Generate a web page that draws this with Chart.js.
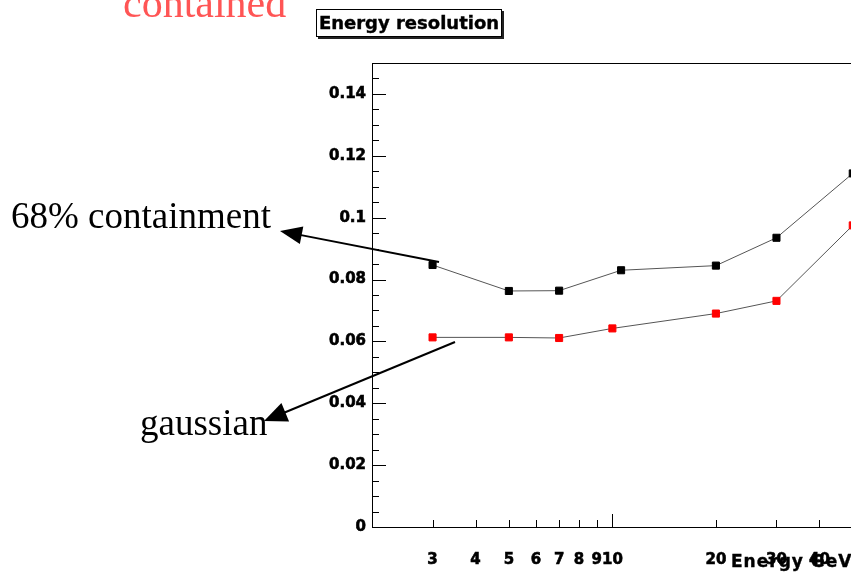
<!DOCTYPE html>
<html>
<head>
<meta charset="utf-8">
<script src="https://cdn.jsdelivr.net/npm/chart.js@4/dist/chart.umd.min.js"></script>
<style>
  body { margin: 0; overflow: hidden; background: #fff; }
  #wrap { position: relative; width: 880px; height: 574px; }
  .note { position: absolute; white-space: nowrap; line-height: 1; }
  .serif { font-family: "Liberation Serif", "Times New Roman", serif; color: #000; }
  #titlebox {
    position: absolute; left: 316px; top: 9px; width: 184px; height: 26px;
    border: 1px solid #000; box-shadow: 2px 2px 0 #222; background: #fff;
    font: bold 18px "DejaVu Sans", sans-serif; text-align: center; line-height: 26px;
    -webkit-text-stroke: 0.4px #000;
  }
</style>
</head>
<body>
<div id="wrap">
  <canvas id="myChart" width="880" height="574"></canvas>
  <div class="note serif" style="left:123px; top:-18px; font-size:42px; color:#ff5555;">contained</div>
  <div id="titlebox">Energy resolution</div>
  <div class="note serif" style="left:11px; top:197px; font-size:37px;">68% containment</div>
  <div class="note serif" style="left:140px; top:404px; font-size:37px;">gaussian</div>
  <div class="note" style="left:731px; top:551px; font:bold 17px 'DejaVu Sans', sans-serif; letter-spacing:1px; -webkit-text-stroke:0.4px #000;">Energy GeV</div>
</div>
<script>
// valeurs
const energyContainment = [3, 5, 7, 10.6, 20, 30, 50];
const resContainment = [0.0847, 0.0763, 0.0764, 0.0830, 0.0845, 0.0935, 0.1143];
const energyGauss = [3, 5, 7, 10, 20, 30, 50];
const resGauss = [0.0613, 0.0613, 0.0611, 0.0642, 0.0690, 0.0731, 0.0975];

const xTickValues = [3, 4, 5, 6, 7, 8, 9, 10, 20, 30, 40];
const xMinorTicks = [2, 3, 4, 5, 6, 7, 8, 9, 10, 20, 30, 40, 50];
const yTickValues = [0, 0.02, 0.04, 0.06, 0.08, 0.1, 0.12, 0.14];
const yMinorStep = 0.005;

const toPoints = (xs, ys) => xs.map((x, i) => ({ x: x, y: ys[i] }));
const tickFont = { family: 'DejaVu Sans', size: 15, weight: 'bold' };

// ticks vers l'interieur + cadre + fleches
const rootStyle = {
    id: 'rootStyle',
    afterDraw(chart) {
        const ctx = chart.ctx;
        const area = chart.chartArea;
        const xs = chart.scales.x;
        const ys = chart.scales.y;
        ctx.save();
        ctx.strokeStyle = '#000';
        ctx.lineWidth = 1;
        ctx.beginPath();
        ctx.moveTo(area.left, Math.round(area.top) + 0.5);
        ctx.lineTo(area.right, Math.round(area.top) + 0.5);
        // y ticks
        for (let i = 0; i * yMinorStep <= ys.max + 1e-9; i++) {
            const py = Math.round(ys.getPixelForValue(i * yMinorStep)) + 0.5;
            const len = i % 4 === 0 ? 14 : 7;
            ctx.moveTo(area.left, py);
            ctx.lineTo(area.left + len, py);
        }
        // x ticks
        xMinorTicks.forEach((v) => {
            const px = Math.round(xs.getPixelForValue(v)) + 0.5;
            const len = v === 10 ? 13 : 7;
            ctx.moveTo(px, area.bottom);
            ctx.lineTo(px, area.bottom - len);
        });
        ctx.stroke();

        // fleches
        const arrow = (x1, y1, x2, y2, hl, hw) => {
            const dx = x2 - x1, dy = y2 - y1;
            const d = Math.hypot(dx, dy);
            const ux = dx / d, uy = dy / d;
            ctx.lineWidth = 2;
            ctx.beginPath();
            ctx.moveTo(x1, y1);
            ctx.lineTo(x2 - ux * hl * 0.8, y2 - uy * hl * 0.8);
            ctx.stroke();
            ctx.beginPath();
            ctx.moveTo(x2, y2);
            ctx.lineTo(x2 - ux * hl - uy * hw, y2 - uy * hl + ux * hw);
            ctx.lineTo(x2 - ux * hl + uy * hw, y2 - uy * hl - ux * hw);
            ctx.closePath();
            ctx.fillStyle = '#000';
            ctx.fill();
        };
        arrow(439, 262, 280, 231, 22, 9);
        arrow(455, 342, 264, 421, 23, 10);
        ctx.restore();
    }
};

new Chart(document.getElementById('myChart'), {
    type: 'scatter',
    data: {
        datasets: [{
            label: '68% containment',
            data: toPoints(energyContainment, resContainment),
            showLine: true,
            borderColor: '#555',
            borderWidth: 1,
            pointStyle: 'rect',
            pointRadius: 5,
            pointBorderWidth: 1,
            pointBackgroundColor: '#000',
            pointBorderColor: '#000'
        }, {
            label: 'gaussian',
            data: toPoints(energyGauss, resGauss),
            showLine: true,
            borderColor: '#555',
            borderWidth: 1,
            pointStyle: 'rect',
            pointRadius: 5,
            pointBorderWidth: 1,
            pointBackgroundColor: '#ff0000',
            pointBorderColor: '#ff0000'
        }]
    },
    options: {
        responsive: false,
        animation: false,
        layout: { padding: { top: 63, right: 13, bottom: 0, left: 0 } },
        plugins: {
            legend: { display: false },
            tooltip: { enabled: false }
        },
        scales: {
            x: {
                type: 'logarithmic',
                min: 2,
                max: 55,
                afterBuildTicks: (scale) => { scale.ticks = xTickValues.map((v) => ({ value: v })); },
                afterFit: (scale) => { scale.height = 47; },
                grid: { display: false, drawTicks: false },
                border: { display: true, color: '#000', width: 1 },
                ticks: {
                    autoSkip: false,
                    maxRotation: 0,
                    padding: 24,
                    color: '#000',
                    font: tickFont,
                    textStrokeColor: '#000',
                    textStrokeWidth: 0.6,
                    callback: (v) => String(v)
                }
            },
            y: {
                min: 0,
                max: 0.15,
                afterBuildTicks: (scale) => { scale.ticks = yTickValues.map((v) => ({ value: v })); },
                afterFit: (scale) => { scale.width = 372; },
                grid: { display: false, drawTicks: false },
                border: { display: true, color: '#000', width: 1 },
                ticks: {
                    padding: 6,
                    color: '#000',
                    font: tickFont,
                    textStrokeColor: '#000',
                    textStrokeWidth: 0.6,
                    callback: (v) => (Math.abs(v) < 1e-9 ? '0' : String(+v.toFixed(2)))
                }
            }
        }
    },
    plugins: [rootStyle]
});
</script>
</body>
</html>
